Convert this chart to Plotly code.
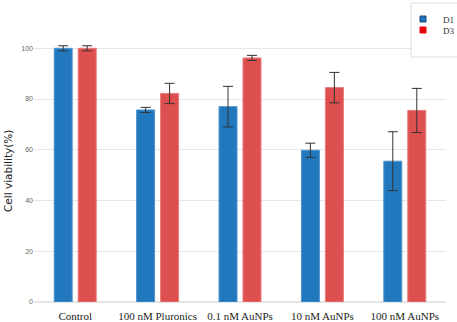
import plotly.graph_objects as go

categories = ["Control", "100 nM Pluronics", "0.1 nM AuNPs", "10 nM AuNPs", "100 nM AuNPs"]
d1_values = [100.0, 75.7, 77.0, 59.8, 55.5]
d1_errors = [1.0, 1.0, 8.0, 2.8, 11.6]
d3_values = [100.0, 82.2, 96.2, 84.5, 75.5]
d3_errors = [1.0, 4.0, 1.0, 6.0, 8.7]
y_ticks = [0, 20, 40, 60, 80, 100]

fig = go.Figure()
fig.add_trace(go.Bar(
    name="D1", x=categories, y=d1_values, showlegend=False,
    marker=dict(color="#2178bd", line=dict(color="#4f95cf", width=1)),
    error_y=dict(type="data", array=d1_errors, color="#333333", thickness=1, width=5),
))
fig.add_trace(go.Bar(
    name="D3", x=categories, y=d3_values, showlegend=False,
    marker=dict(color="#de4f4f", line=dict(color="#e87a7a", width=1)),
    error_y=dict(type="data", array=d3_errors, color="#333333", thickness=1, width=5),
))
# legend entries
fig.add_trace(go.Scatter(name="D1", x=[None], y=[None], mode="markers", legend="legend",
                         marker=dict(symbol="square", size=6, color="#1f6fb8",
                                     line=dict(color="#184f80", width=1))))
fig.add_trace(go.Scatter(name="D3", x=[None], y=[None], mode="markers", legend="legend2",
                         marker=dict(symbol="square", size=6, color="#e8000b",
                                     line=dict(color="#e8000b", width=1))))

fig.add_shape(type="rect", xref="paper", yref="paper",
              x0=(411-34)/412, x1=(470-34)/412, y0=(302-57)/274, y1=(302-3)/274,
              line=dict(color="#dddddd", width=1), fillcolor="white", layer="above")

fig.add_annotation(text="Cell viability(%)", textangle=-90, showarrow=False,
                   xref="paper", yref="paper", x=(8-34)/412, y=(302-171)/274,
                   xanchor="center", yanchor="middle",
                   font=dict(family="DejaVu Sans", size=10.5, color="#222222"))

legend_common = dict(xanchor="left", yanchor="middle", bgcolor="rgba(0,0,0,0)", borderwidth=0,
                     font=dict(family="Liberation Serif", size=9, color="#333333"),
                     itemwidth=30, tracegroupgap=0)

fig.update_layout(
    width=457, height=322,
    margin=dict(l=34, r=11, t=28, b=20, autoexpand=False),
    paper_bgcolor="white", plot_bgcolor="white",
    barmode="group", bargap=0.418, bargroupgap=0.25,
    showlegend=True,
    legend=dict(x=(403-34)/412, y=(302-19)/274, **legend_common),
    legend2=dict(x=(403-34)/412, y=(302-30)/274, **legend_common),
    xaxis=dict(showgrid=False, showline=False, zeroline=False, ticks="",
               tickfont=dict(family="Liberation Serif", size=11, color="#222222"),
               ticklabelstandoff=6, automargin=False),
    yaxis=dict(range=[0, 108], tickvals=y_ticks, showgrid=True, gridcolor="#e6e6e6",
               gridwidth=1, zeroline=True, zerolinecolor="#e6e6e6", showline=False,
               tickfont=dict(family="Liberation Sans", size=7, color="#666666"),
               ticks="", automargin=False),
)

fig.write_html("out.html", config={"displayModeBar": False},
               post_script="document.body.style.margin='0';")
